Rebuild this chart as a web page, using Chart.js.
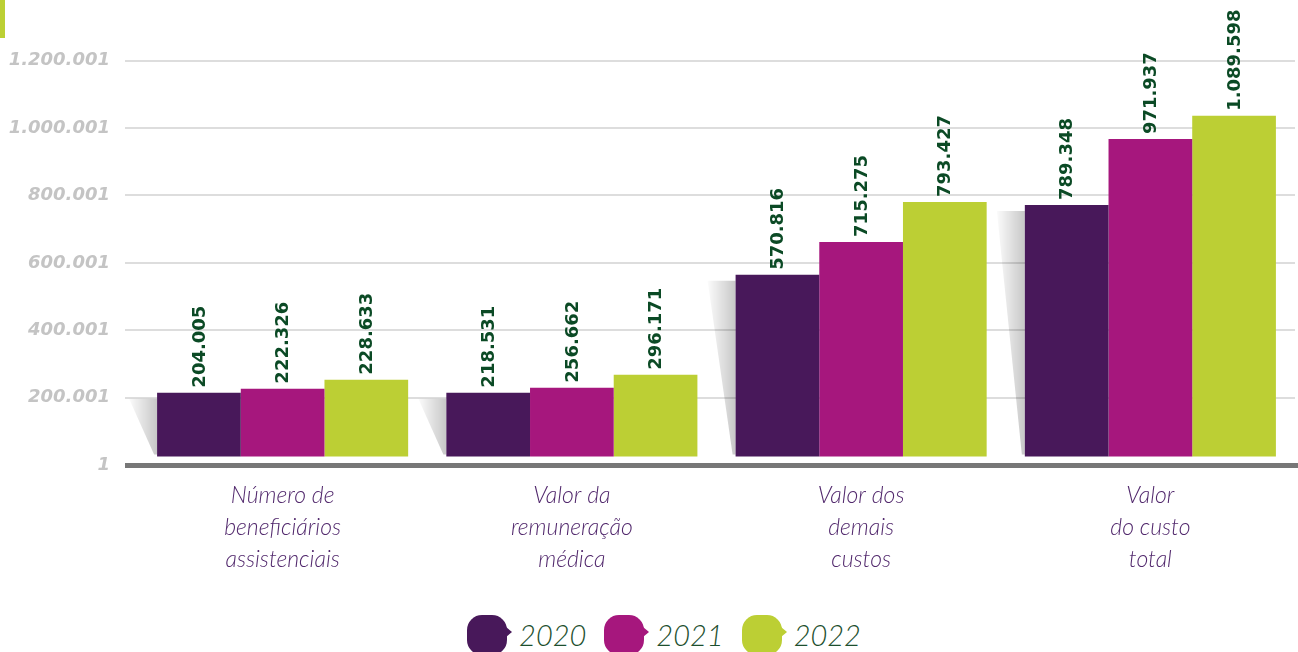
<!DOCTYPE html>
<html>
<head>
<meta charset="utf-8">
<script src="https://cdn.jsdelivr.net/npm/chart.js@4.4.0/dist/chart.umd.min.js"></script>
<style>
  html, body { margin: 0; padding: 0; background: #fff; overflow: hidden; }
  #wrap { position: relative; width: 1298px; height: 652px; }
  #accent { position: absolute; left: 0; top: 0; width: 5px; height: 38px; background: #bcd034; }
  #chart { position: absolute; left: 0; top: 0; }
  #legend { position: absolute; left: 0; top: 615px; width: 1298px; display: flex; justify-content: center; padding-left: 30px; box-sizing: border-box; }
  .item { display: flex; align-items: flex-start; margin: 0 9px; }
  .swatch { position: relative; width: 40px; height: 40px; border-radius: 15px; }
  .swatch::after { content: ""; position: absolute; right: -5px; top: 12px; border-top: 5px solid transparent; border-bottom: 5px solid transparent; border-left: 6px solid; border-left-color: inherit; }
  .label { font-family: Lato, "Open Sans", sans-serif; font-style: italic; font-weight: 300; font-size: 29px; color: #1d4f2e; margin-left: 12px; line-height: 40px; }
</style>
</head>
<body>
<div id="wrap">
  <div id="accent"></div>
  <canvas id="chart" width="1298" height="600"></canvas>
  <div id="legend"></div>
</div>
<script>
var categories = [
  ["Número de", "beneficiários", "assistenciais"],
  ["Valor da", "remuneração", "médica"],
  ["Valor dos", "demais", "custos"],
  ["Valor", "do custo", "total"]
];
var years = ["2020", "2021", "2022"];
// printed values
var labels2020 = [204005, 218531, 570816, 789348];
var labels2021 = [222326, 256662, 715275, 971937];
var labels2022 = [228633, 296171, 793427, 1089598];
// bar heights as drawn in the picture (read against the axis)
var heights2020 = [214800, 214800, 564400, 771900];
var heights2021 = [226700, 229600, 662200, 967400];
var heights2022 = [253300, 268100, 780700, 1036400];
var yTicks = [1, 200001, 400001, 600001, 800001, 1000001, 1200001];
var colors = ["#48185a", "#a6177d", "#bccf34"];

function fmt(n) {
  return String(n).replace(/\B(?=(\d{3})+(?!\d))/g, ".");
}

var barShadow = {
  id: "barShadow",
  beforeDatasetsDraw: function (chart) {
    var ctx = chart.ctx;
    var meta = chart.getDatasetMeta(0);
    meta.data.forEach(function (bar) {
      var left = bar.x - bar.width / 2;
      var top = bar.y + 6;
      var bottom = bar.base - 2;
      var g = ctx.createLinearGradient(left - 30, 0, left, 0);
      g.addColorStop(0, "rgba(0,0,0,0)");
      g.addColorStop(1, "rgba(0,0,0,0.22)");
      ctx.save();
      ctx.fillStyle = g;
      ctx.beginPath();
      ctx.moveTo(left - 28, top);
      ctx.lineTo(left, top);
      ctx.lineTo(left, bottom);
      ctx.lineTo(left - 3, bottom);
      ctx.closePath();
      ctx.fill();
      ctx.restore();
    });
  }
};

var barLabels = {
  id: "barLabels",
  afterDatasetsDraw: function (chart) {
    var ctx = chart.ctx;
    var area = chart.chartArea;
    // thick base line
    ctx.save();
    ctx.fillStyle = "#777777";
    ctx.fillRect(125, area.bottom - 2, 1298 - 125, 5);
    ctx.restore();
    chart.data.datasets.forEach(function (ds, i) {
      var meta = chart.getDatasetMeta(i);
      meta.data.forEach(function (bar, j) {
        ctx.save();
        ctx.translate(bar.x + 1, bar.y - 5);
        ctx.rotate(-Math.PI / 2);
        ctx.font = "bold 18px 'DejaVu Sans'";
        ctx.fillStyle = "#0b4a25";
        ctx.textAlign = "left";
        ctx.textBaseline = "middle";
        ctx.fillText(fmt(ds.printed[j]), 0, 0);
        ctx.restore();
      });
    });
  }
};

var chart = new Chart(document.getElementById("chart").getContext("2d"), {
  type: "bar",
  data: {
    labels: categories,
    datasets: [
      { label: years[0], data: heights2020, printed: labels2020, backgroundColor: colors[0] },
      { label: years[1], data: heights2021, printed: labels2021, backgroundColor: colors[1] },
      { label: years[2], data: heights2022, printed: labels2022, backgroundColor: colors[2] }
    ]
  },
  options: {
    responsive: false,
    animation: false,
    devicePixelRatio: 1,
    layout: { padding: { top: 0, right: 3, left: 0, bottom: 0 } },
    datasets: { bar: { categoryPercentage: 0.868, barPercentage: 1, borderWidth: 0, base: 25000 } },
    plugins: {
      legend: { display: false },
      tooltip: { enabled: false }
    },
    scales: {
      x: {
        grid: { display: false, drawTicks: false },
        border: { display: false },
        ticks: {
          color: "#52296d",
          padding: 14,
          font: { family: "Lato, 'Open Sans', sans-serif", style: "italic", weight: 300, size: 23, lineHeight: 1.4 }
        },
        afterFit: function (scale) { scale.height = 135; }
      },
      y: {
        min: 1,
        max: 1303704,
        afterBuildTicks: function (scale) {
          scale.ticks = yTicks.map(function (v) { return { value: v }; });
        },
        grid: { color: "#dddddd", lineWidth: 2, drawTicks: true, tickLength: 13 },
        border: { display: false },
        ticks: {
          color: "#c4c4c4",
          padding: 15,
          font: { family: "'DejaVu Sans'", style: "italic", weight: "bold", size: 18 },
          callback: function (v) { return fmt(v); }
        },
        afterFit: function (scale) { scale.width = 138; }
      }
    }
  },
  plugins: [barShadow, barLabels]
});

var legendEl = document.getElementById("legend");
chart.data.datasets.forEach(function (ds) {
  var item = document.createElement("div");
  item.className = "item";
  var sw = document.createElement("div");
  sw.className = "swatch";
  sw.style.background = ds.backgroundColor;
  sw.style.borderLeftColor = ds.backgroundColor;
  var lb = document.createElement("div");
  lb.className = "label";
  lb.textContent = ds.label;
  item.appendChild(sw);
  item.appendChild(lb);
  legendEl.appendChild(item);
});
</script>
</body>
</html>
